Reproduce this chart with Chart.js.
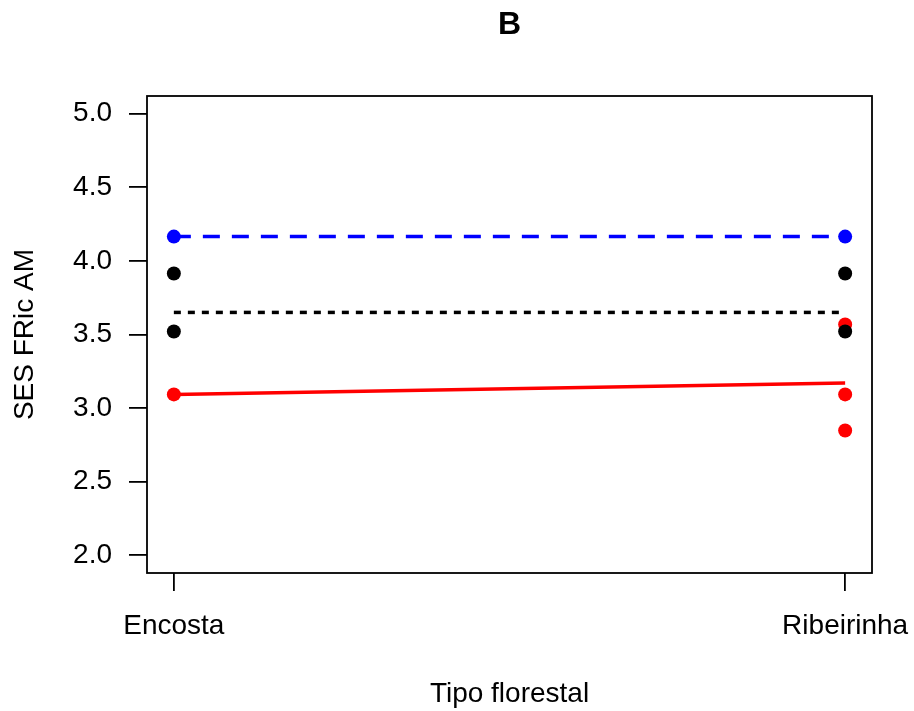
<!DOCTYPE html>
<html>
<head>
<meta charset="utf-8">
<script src="https://cdn.jsdelivr.net/npm/chart.js@4/dist/chart.umd.min.js"></script>
<style>
  html, body { margin: 0; padding: 0; background: #fff; }
  #wrap { width: 914px; height: 711px; }
</style>
</head>
<body>
<div id="wrap"><canvas id="grafico"></canvas></div>
<script>
// categorias y valores
const categorias = ['Encosta', 'Ribeirinha'];
const posX = [1, 2];
const azulPuntos = [4.165, 4.165];
const negroEncosta = [3.914, 3.52];
const negroRibeirinha = [3.914, 3.52];
const rojoEncosta = [3.093];
const rojoRibeirinha = [3.568, 3.093, 2.848];
const lineaAzul = [4.165, 4.165];
const lineaNegra = [3.65, 3.65];
const lineaRoja = [3.093, 3.171];
const ticksY = [2.0, 2.5, 3.0, 3.5, 4.0, 4.5, 5.0];

const fuente = '"Liberation Sans", Arial, Helvetica, sans-serif';

function puntos(x, valores) {
    return valores.map(v => ({ x: x, y: v }));
}
function linea(valores) {
    return valores.map((v, i) => ({ x: posX[i], y: v }));
}

// caja alrededor del area del grafico (como box() en R)
const caja = {
    id: 'caja',
    afterDatasetsDraw(chart) {
        const a = chart.chartArea;
        const ctx = chart.ctx;
        ctx.save();
        ctx.strokeStyle = '#000';
        ctx.lineWidth = 1.8;
        ctx.strokeRect(a.left, a.top, a.right - a.left, a.bottom - a.top);
        ctx.restore();
    }
};

const estiloPunto = (color) => ({
    type: 'scatter',
    pointRadius: 7,
    pointHoverRadius: 7,
    pointBackgroundColor: color,
    pointBorderColor: color,
    pointBorderWidth: 0,
    showLine: false
});
const estiloLinea = (color, dash) => ({
    type: 'scatter',
    showLine: true,
    borderColor: color,
    borderWidth: 3.5,
    borderDash: dash,
    pointRadius: 0,
    fill: false
});

const ctx = document.getElementById('grafico').getContext('2d');
new Chart(ctx, {
    type: 'scatter',
    data: {
        datasets: [
            Object.assign({ data: puntos(posX[0], azulPuntos.slice(0, 1)).concat(puntos(posX[1], azulPuntos.slice(1))) }, estiloPunto('#0000FF')),
            Object.assign({ data: puntos(posX[0], negroEncosta).concat(puntos(posX[1], negroRibeirinha)) }, estiloPunto('#000000')),
            Object.assign({ data: puntos(posX[0], rojoEncosta).concat(puntos(posX[1], rojoRibeirinha)) }, estiloPunto('#FF0000')),
            Object.assign({ data: linea(lineaAzul) }, estiloLinea('#0000FF', [17, 12])),
            Object.assign({ data: linea(lineaNegra) }, estiloLinea('#000000', [7, 7])),
            Object.assign({ data: linea(lineaRoja) }, estiloLinea('#FF0000', []))
        ]
    },
    options: {
        responsive: true,
        maintainAspectRatio: false,
        animation: false,
        layout: { padding: { left: 0, right: 42, top: 0, bottom: 0 } },
        plugins: {
            legend: { display: false },
            tooltip: { enabled: false },
            title: {
                display: true,
                text: 'B',
                fullSize: false,
                color: '#000',
                font: { family: fuente, size: 32, weight: 'bold' },
                padding: { top: 5.8, bottom: 51.8 }
            }
        },
        scales: {
            x: {
                type: 'linear',
                min: 0.96,
                max: 2.04,
                afterBuildTicks: (s) => { s.ticks = posX.map(v => ({ value: v })); },
                afterFit: (s) => { s.height = 138; s.paddingLeft = 0; s.paddingRight = 0; },
                grid: { drawOnChartArea: false, drawTicks: true, tickLength: 18, color: '#000', lineWidth: 1.8 },
                border: { display: false },
                ticks: {
                    color: '#000',
                    font: { family: fuente, size: 28 },
                    padding: 18,
                    maxRotation: 0,
                    autoSkip: false,
                    callback: (v) => categorias[posX.indexOf(v)]
                },
                title: {
                    display: true,
                    text: 'Tipo florestal',
                    color: '#000',
                    font: { family: fuente, size: 28 },
                    padding: { top: 0, bottom: 0 }
                }
            },
            y: {
                min: 1.88,
                max: 5.12,
                afterBuildTicks: (s) => { s.ticks = ticksY.map(v => ({ value: v })); },
                afterFit: (s) => { s.width = 147; },
                grid: { drawOnChartArea: false, drawTicks: true, tickLength: 18, color: '#000', lineWidth: 1.8 },
                border: { display: false },
                ticks: {
                    color: '#000',
                    font: { family: fuente, size: 28 },
                    padding: 17,
                    callback: (v) => v.toFixed(1)
                },
                title: {
                    display: true,
                    text: 'SES FRic AM',
                    color: '#000',
                    font: { family: fuente, size: 28 },
                    padding: { top: 8, bottom: 0 }
                }
            }
        }
    },
    plugins: [caja]
});
</script>
</body>
</html>
